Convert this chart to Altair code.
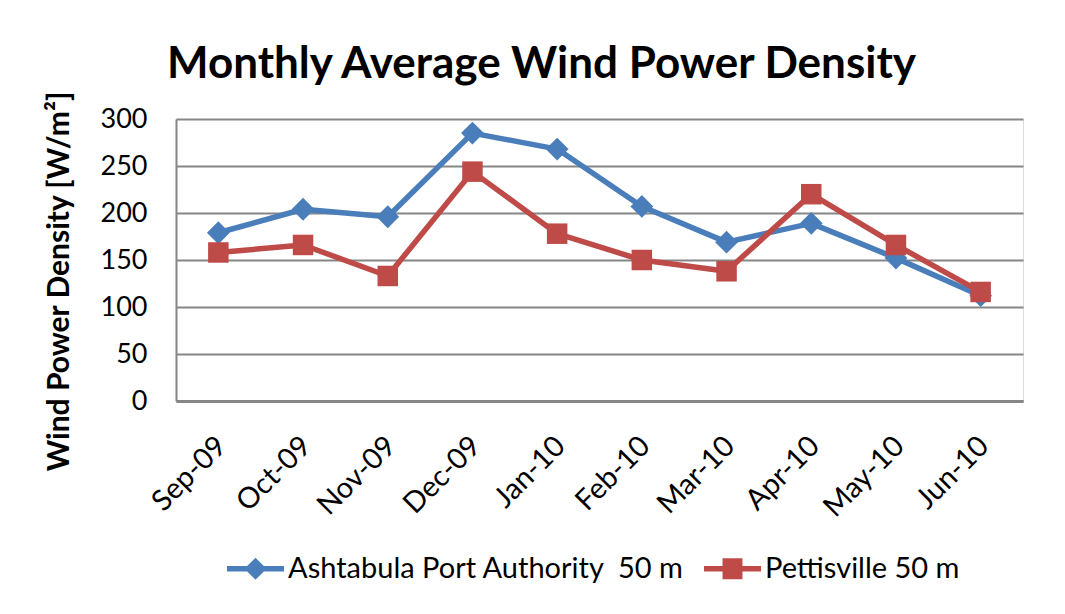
import altair as alt
import pandas as pd

months = ["Sep-09", "Oct-09", "Nov-09", "Dec-09", "Jan-10", "Feb-10",
          "Mar-10", "Apr-10", "May-10", "Jun-10"]
ashtabula = [179, 204, 196, 285, 268, 207, 169, 189, 152, 112]
pettisville = [158, 166, 133, 244, 178, 150, 138, 220, 166, 116]
series_names = ["Ashtabula Port Authority\u00a0 50 m", "Pettisville 50 m"]
colors = ["#4A7EBB", "#BE4B48"]
marker_shapes = ["diamond", "square"]
marker_sizes = [520, 420]
y_ticks = [0, 50, 100, 150, 200, 250, 300]

legend_paths = [
    "M-1,-0.1H1V0.1H-1Z M0,-0.39L0.39,0L0,0.39L-0.39,0Z",
    "M-1,-0.1H1V0.1H-1Z M-0.35,-0.37H0.35V0.37H-0.35Z",
]

rows = []
for m, a, p in zip(months, ashtabula, pettisville):
    rows.append({"month": m, "series": series_names[0], "value": a})
    rows.append({"month": m, "series": series_names[1], "value": p})
df = pd.DataFrame(rows)

FONT = "Lato"

x_enc = alt.X("month:N", sort=months, title=None,
              axis=alt.Axis(labelAngle=-45, labelAlign="right", labelBaseline="middle",
                            labelFont=FONT, labelFontSize=29, labelColor="black",
                            labelPadding=40, labelOffset=3, ticks=False, tickSize=0,
                            domainColor="#868686", domainWidth=3, grid=False))
y_enc = alt.Y("value:Q", scale=alt.Scale(domain=[0, 300], nice=False),
              title="Wind Power Density [W/m²]",
              axis=alt.Axis(values=y_ticks, labelFont=FONT, labelFontSize=27,
                            labelColor="black", labelPadding=29, ticks=False, tickSize=0,
                            domainColor="#868686", domainWidth=2,
                            grid=True, gridColor="#868686", gridWidth=1.8,
                            titleFont=FONT, titleFontSize=30, titleFontWeight="bold",
                            titleColor="black", titleAngle=270, titleAlign="center",
                            titleBaseline="alphabetic", titleX=-108, titleY=162))
color_enc = alt.Color("series:N", scale=alt.Scale(domain=series_names, range=colors), legend=None)

layers = []
base = alt.Chart(df)
for name, shp, sz in zip(series_names, marker_shapes, marker_sizes):
    sub = base.transform_filter(alt.datum.series == name)
    layers.append(sub.mark_line(strokeWidth=5.5, strokeJoin="round", strokeCap="round")
                  .encode(x=x_enc, y=y_enc, color=color_enc))
    layers.append(sub.mark_point(filled=True, shape=shp, size=sz, opacity=1, strokeWidth=0)
                  .encode(x=x_enc, y=y_enc, color=color_enc))

leg = alt.Legend(orient="none", legendX=51, legendY=421, direction="horizontal",
                 title=None, labelFont=FONT, labelFontSize=29,
                 labelColor="black", labelLimit=700, labelOffset=4,
                 symbolSize=3249, symbolStrokeWidth=0, symbolOpacity=1,
                 columnPadding=20, padding=0)
legend_layer = base.transform_filter("false").mark_point(filled=True).encode(
    x=x_enc, y=y_enc,
    color=alt.Color("series:N", scale=alt.Scale(domain=series_names, range=colors), legend=leg),
    shape=alt.Shape("series:N", scale=alt.Scale(domain=series_names, range=legend_paths), legend=leg),
)
layers.append(legend_layer)

chart = alt.layer(*layers).resolve_legend(color="independent", shape="independent").properties(
    width=847, height=282,
    autosize=alt.AutoSizeParams(type="none"),
    padding={"left": 168, "top": 111, "right": 30, "bottom": 200},
    title=alt.TitleParams("Monthly Average Wind Power Density", font=FONT, fontSize=44,
                          fontWeight="bold", color="black", anchor="middle", dx=-58,
                          offset=20, dy=17),
).configure_view(stroke="transparent").configure(background="white")

chart.save("out.html", embed_options={"renderer": "svg", "actions": False})
